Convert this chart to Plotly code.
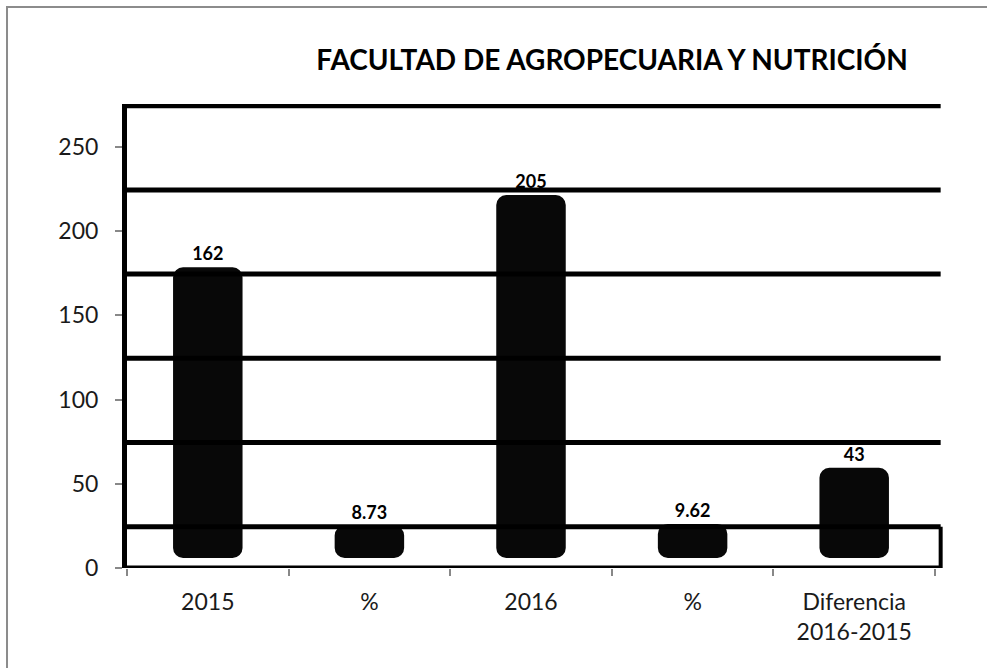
import plotly.graph_objects as go

categorias = ["2015", "%", "2016", "%", "Diferencia<br>2016-2015"]
valores = [162, 8.73, 205, 9.62, 43]
etiquetas = ["162", "8.73", "205", "9.62", "43"]
ticks_y = [0, 50, 100, 150, 200, 250]

# efecto 3D de Excel: pared del fondo desplazada, columnas levantadas y con tapa
FONDO = 24.5
BASE = 6
TAPA = 10.5
TOPE = 275.5
FUENTE = "Lato"

x = list(range(len(categorias)))

fig = go.Figure(go.Bar(
    x=x, y=[v + TAPA for v in valores], base=BASE, width=0.43,
    marker=dict(color="#080808", cornerradius=10, line=dict(width=0)),
    text=etiquetas, textposition="outside", cliponaxis=False,
    textfont=dict(family=FUENTE, size=18, color="black", weight="bold"),
    hoverinfo="skip",
))

# lineas de la pared del fondo (cuadricula desplazada)
linea = dict(color="black", width=5)
shapes = []
for t in ticks_y:
    shapes.append(dict(type="line", xref="paper", yref="y", x0=0, x1=1.007,
                       y0=t + FONDO, y1=t + FONDO, line=linea))
shapes.append(dict(type="line", xref="paper", yref="y", x0=0, x1=1.007,
                   y0=0, y1=0, line=linea))
shapes.append(dict(type="line", xref="paper", yref="y", x0=1.007, x1=1.007,
                   y0=0, y1=FONDO, line=dict(color="black", width=4)))
# marco exterior del grafico
shapes.append(dict(type="rect", xref="paper", yref="paper", x0=-0.1485, x1=1.3,
                   y0=-0.5, y1=1.209, line=dict(color="#8c8c8c", width=2),
                   layer="below"))

fig.update_layout(
    width=987, height=668,
    margin=dict(l=127, r=52, t=104, b=100),
    paper_bgcolor="white", plot_bgcolor="white",
    showlegend=False,
    shapes=shapes,
    title=dict(text="<b>FACULTAD DE AGROPECUARIA Y NUTRICIÓN</b>",
               x=612 / 987, xanchor="center", xref="container",
               y=1 - 60 / 668, yanchor="middle", yref="container",
               font=dict(family=FUENTE, size=28, color="black")),
    xaxis=dict(range=[-0.5, 4.5], tickvals=x, ticktext=categorias,
               ticks="", showline=False, showgrid=False, zeroline=False,
               automargin=False,
               tickfont=dict(family=FUENTE, size=23, color="#1a1a1a"),
               ticklabelstandoff=18,
               minor=dict(ticks="outside", tick0=-0.5, dtick=1, ticklen=7,
                          tickcolor="#888888", tickwidth=2, showgrid=False)),
    yaxis=dict(range=[0, TOPE], tickvals=ticks_y, ticks="outside", ticklen=7,
               tickcolor="#888888", tickwidth=2,
               showline=True, linecolor="black", linewidth=5,
               showgrid=False, zeroline=False, automargin=False,
               tickfont=dict(family=FUENTE, size=23, color="#1a1a1a"),
               ticklabelstandoff=12),
)

# la pagina por defecto deja 8px de margen en el body
fig.write_html("out.html", config={"displayModeBar": False},
               post_script="document.body.style.margin='0';")
